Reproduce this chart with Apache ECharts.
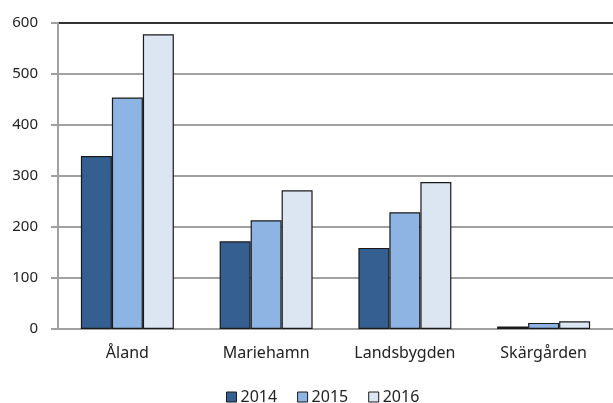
<!DOCTYPE html>
<html>
<head>
<meta charset="utf-8">
<script src="https://cdn.jsdelivr.net/npm/echarts@6/dist/echarts.min.js"></script>
<style>
html, body { margin: 0; padding: 0; background: #fff; }
#chart { width: 613px; height: 403px; }
</style>
</head>
<body>
<div id="chart"></div>
<script>
var categories = ['Åland', 'Mariehamn', 'Landsbygden', 'Skärgården'];
var years = ['2014', '2015', '2016'];
var values2014 = [339, 172, 159, 5];
var values2015 = [454, 213, 229, 12];
var values2016 = [578, 272, 288, 15];
var colors = ['#355f91', '#8eb4e3', '#dce6f2'];

var font = 'Noto Sans';
var chart = echarts.init(document.getElementById('chart'));

function makeSeries(name, data, color) {
    return {
        name: name,
        type: 'bar',
        data: data,
        barGap: '0%',
        barCategoryGap: '33%',
        itemStyle: {
            color: color,
            borderColor: '#1a1a1a',
            borderWidth: 1.2
        }
    };
}

var option = {
    animation: false,
    backgroundColor: '#fff',
    grid: { left: 58, right: 0, top: 23, bottom: 74 },
    legend: {
        top: 384,
        left: 221,
        itemWidth: 10,
        itemHeight: 10,
        itemGap: 20,
        icon: 'rect',
        textStyle: { fontFamily: font, fontSize: 16, color: '#222', padding: [0, 0, 0, -1] },
        data: years.map(function (y, i) {
            return { name: y, itemStyle: { color: colors[i], borderColor: '#1a1a1a', borderWidth: 1 } };
        })
    },
    xAxis: {
        type: 'category',
        data: categories,
        axisLine: { lineStyle: { color: '#a0a0a0', width: 2 } },
        axisTick: { show: false },
        axisLabel: { fontFamily: font, fontSize: 16, color: '#222', margin: 16 }
    },
    yAxis: {
        type: 'value',
        min: 0,
        max: 600,
        interval: 100,
        axisLine: { show: true, lineStyle: { color: '#a0a0a0', width: 2 } },
        axisTick: { show: true, length: 7, lineStyle: { color: '#a0a0a0', width: 2 } },
        axisLabel: { fontFamily: font, fontSize: 15, color: '#222', margin: 20 },
        splitLine: {
            lineStyle: {
                color: ['#a0a0a0', '#a0a0a0', '#a0a0a0', '#a0a0a0', '#a0a0a0', '#a0a0a0', '#333333'],
                width: 2
            }
        }
    },
    series: [
        makeSeries(years[0], values2014, colors[0]),
        makeSeries(years[1], values2015, colors[1]),
        makeSeries(years[2], values2016, colors[2])
    ]
};
chart.setOption(option);
</script>
</body>
</html>
